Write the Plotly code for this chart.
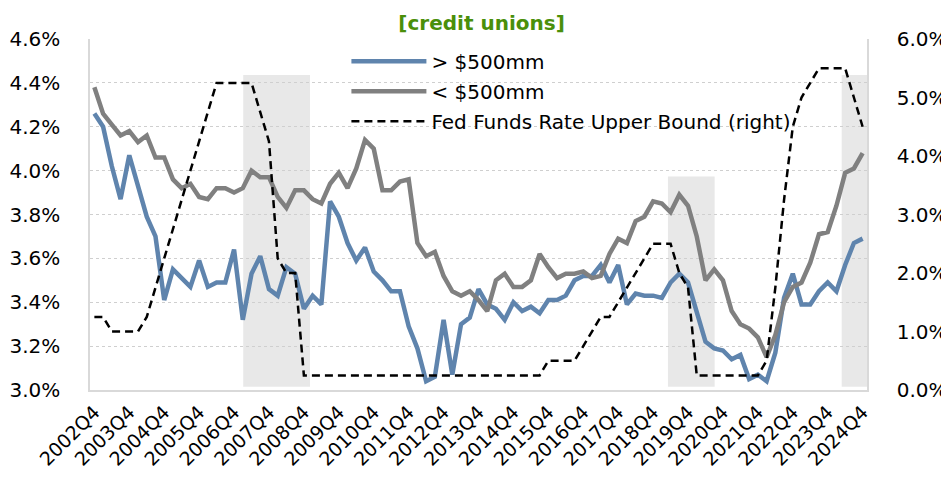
import plotly.graph_objects as go

# ---------------- data ----------------
n_quarters = 89  # 2002Q4 .. 2024Q4

quarters = []
y, q = 2002, 4
for _ in range(n_quarters):
    quarters.append(f"{y}Q{q}")
    q += 1
    if q > 4:
        q = 1
        y += 1

large_cu = [4.26, 4.20, 4.02, 3.87, 4.07, 3.93, 3.79, 3.70, 3.41, 3.55,
            3.51, 3.47, 3.59, 3.47, 3.49, 3.49, 3.64, 3.32, 3.53, 3.61,
            3.46, 3.43, 3.56, 3.53, 3.37, 3.43, 3.39, 3.86, 3.79, 3.67,
            3.59, 3.65, 3.54, 3.50, 3.45, 3.45, 3.29, 3.19, 3.04, 3.06,
            3.32, 3.07, 3.30, 3.33, 3.46, 3.39, 3.37, 3.32, 3.40, 3.36,
            3.38, 3.35, 3.41, 3.41, 3.43, 3.50, 3.52, 3.52, 3.57, 3.49,
            3.57, 3.39, 3.44, 3.43, 3.43, 3.42, 3.49, 3.53, 3.49, 3.35,
            3.22, 3.19, 3.18, 3.14, 3.16, 3.05, 3.07, 3.04, 3.17, 3.42,
            3.53, 3.39, 3.39, 3.45, 3.49, 3.45, 3.57, 3.67, 3.69]

small_cu = [4.38, 4.26, 4.21, 4.16, 4.18, 4.13, 4.16, 4.06, 4.06, 3.96,
            3.92, 3.94, 3.88, 3.87, 3.92, 3.92, 3.90, 3.92, 4.00, 3.97,
            3.97, 3.88, 3.83, 3.91, 3.91, 3.87, 3.85, 3.94, 3.99, 3.92,
            4.01, 4.14, 4.10, 3.91, 3.91, 3.95, 3.96, 3.67, 3.61, 3.63,
            3.52, 3.45, 3.43, 3.45, 3.41, 3.36, 3.50, 3.53, 3.47, 3.47,
            3.50, 3.62, 3.56, 3.51, 3.53, 3.53, 3.54, 3.51, 3.52, 3.62,
            3.69, 3.67, 3.77, 3.79, 3.86, 3.85, 3.81, 3.89, 3.84, 3.70,
            3.50, 3.55, 3.50, 3.36, 3.30, 3.28, 3.24, 3.15, 3.25, 3.40,
            3.47, 3.49, 3.58, 3.71, 3.72, 3.84, 3.99, 4.01, 4.08]

fed_funds = [1.25, 1.25, 1.00, 1.00, 1.00, 1.00, 1.25, 1.75, 2.25, 2.75,
             3.25, 3.75, 4.25, 4.75, 5.25, 5.25, 5.25, 5.25, 5.25, 4.75,
             4.25, 2.25, 2.00, 2.00, 0.25, 0.25, 0.25, 0.25, 0.25, 0.25,
             0.25, 0.25, 0.25, 0.25, 0.25, 0.25, 0.25, 0.25, 0.25, 0.25,
             0.25, 0.25, 0.25, 0.25, 0.25, 0.25, 0.25, 0.25, 0.25, 0.25,
             0.25, 0.25, 0.50, 0.50, 0.50, 0.50, 0.75, 1.00, 1.25, 1.25,
             1.50, 1.75, 2.00, 2.25, 2.50, 2.50, 2.50, 2.00, 1.75, 0.25,
             0.25, 0.25, 0.25, 0.25, 0.25, 0.25, 0.25, 0.50, 1.75, 3.25,
             4.50, 5.00, 5.25, 5.50, 5.50, 5.50, 5.50, 5.00, 4.50]

# shaded periods (quarter index from 2002Q4) and band heights (left axis, %)
shade_from = [17.05, 65.7, 85.6]
shade_to = [24.7, 71.05, 88.5]
shade_top = [4.436, 3.973, 4.436]

left_ticks = [3.0, 3.2, 3.4, 3.6, 3.8, 4.0, 4.2, 4.4, 4.6]
right_ticks = [0, 1, 2, 3, 4, 5, 6]

# ---------------- figure ----------------
FONT = "DejaVu Sans"
W, H = 941, 478  # page body adds an 8px offset
x = list(range(n_quarters))
tick_idx = [i for i in x if quarters[i].endswith("Q4")]
tick_txt = [quarters[i] for i in tick_idx]

fig = go.Figure()
fig.add_trace(go.Scatter(
    x=x, y=large_cu, name="> $500mm", mode="lines",
    line=dict(color="#5F84AD", width=4.5), legendgroup="a", yaxis="y"))
fig.add_trace(go.Scatter(
    x=x, y=small_cu, name="< $500mm", mode="lines",
    line=dict(color="#808080", width=4.5), legendgroup="b", yaxis="y"))
fig.add_trace(go.Scatter(
    x=x, y=fed_funds, name="Fed Funds Rate Upper Bound (right)", mode="lines",
    line=dict(color="black", width=2.5, dash="8px,5px"), legendgroup="c",
    yaxis="y2"))

for a, b, t in zip(shade_from, shade_to, shade_top):
    fig.add_shape(type="rect", xref="x", yref="y", x0=a, x1=b, y0=3.015, y1=t,
                  fillcolor="#E8E8E8", line=dict(width=0), layer="below")

fig.update_layout(
    width=W, height=H,
    margin=dict(l=82, r=82, t=31, b=96, autoexpand=False),
    paper_bgcolor="white", plot_bgcolor="white",
    font=dict(family=FONT, size=20, color="black"),
    title=dict(text="<b>[credit unions]</b>", x=0.504, xref="paper",
               y=1 - 15 / H, yanchor="middle",
               font=dict(family=FONT, size=20, color="#4A8F0A")),
    showlegend=True,
    legend=dict(x=0.330, y=0.992, xanchor="left", yanchor="top",
                bgcolor="rgba(0,0,0,0)", borderwidth=0,
                font=dict(family=FONT, size=20, color="black"),
                itemwidth=75, tracegroupgap=1),
    xaxis=dict(range=[-0.5, n_quarters - 0.5], tickmode="array",
               tickvals=tick_idx, ticktext=tick_txt, tickangle=-45,
               automargin=False,
               showgrid=False, zeroline=False, showline=True,
               linecolor="#D9D9D9", linewidth=1.5, ticks="",
               tickfont=dict(family=FONT, size=19), ticklabelstandoff=2),
    yaxis=dict(range=[3.0, 4.6], tickmode="array", tickvals=left_ticks,
               ticktext=[f"{v:.1f}%" for v in left_ticks], automargin=False,
               showgrid=True, gridcolor="#CFCFCF", griddash="dot", gridwidth=1,
               zeroline=False, showline=True, linecolor="#D9D9D9",
               linewidth=1.5, ticks="", ticklabelstandoff=24),
    yaxis2=dict(range=[0, 6], overlaying="y", side="right", tickmode="array",
                tickvals=right_ticks, automargin=False,
                ticktext=[f"{v:.1f}%" for v in right_ticks],
                showgrid=False, zeroline=False, showline=True,
                linecolor="#D9D9D9", linewidth=1.5, ticks="",
                ticklabelstandoff=24),
)

fig.write_html("out.html")
